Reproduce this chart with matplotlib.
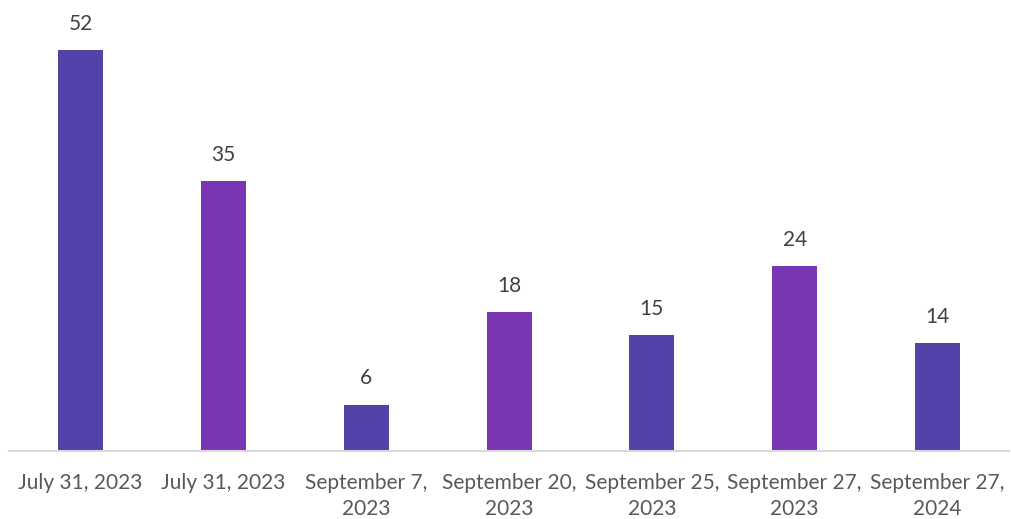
import matplotlib
matplotlib.use("Agg")
import matplotlib.pyplot as plt

categories = ["July 31, 2023", "July 31, 2023", "September 7,\n2023", "September 20,\n2023",
              "September 25,\n2023", "September 27,\n2023", "September 27,\n2024"]
values = [52, 35, 6, 18, 15, 24, 14]
colors = ["#5442A8", "#7A35B5", "#5442A8", "#7A35B5", "#5442A8", "#7A35B5", "#5442A8"]

plt.rcParams["font.family"] = ["Lato", "DejaVu Sans"]

fig = plt.figure(figsize=(10.11, 5.19), dpi=100)
ax = fig.add_axes([9 / 1011, 1 - 451 / 519, 1000 / 1011, 451 / 519])

x = range(len(values))
bars = ax.bar(x, values, width=0.315, color=colors, zorder=2)
for b, v in zip(bars, values):
    ax.annotate(str(v), (b.get_x() + b.get_width() / 2, v), xytext=(0, 19),
                textcoords="offset points", ha="center", va="center",
                fontsize=15, color="#404040")

ax.set_xlim(-0.5, len(values) - 0.5)
ax.set_ylim(0, 58.5)
ax.set_yticks([])
ax.set_xticks(list(x))
ax.set_xticklabels(categories, fontsize=15, color="#595959", linespacing=1.33)
ax.tick_params(axis="x", length=0, pad=16)
for s in ["top", "right", "left"]:
    ax.spines[s].set_visible(False)
ax.spines["bottom"].set_color("#D9D9D9")
ax.spines["bottom"].set_linewidth(1.5)

fig.savefig("out.png", dpi=100)
